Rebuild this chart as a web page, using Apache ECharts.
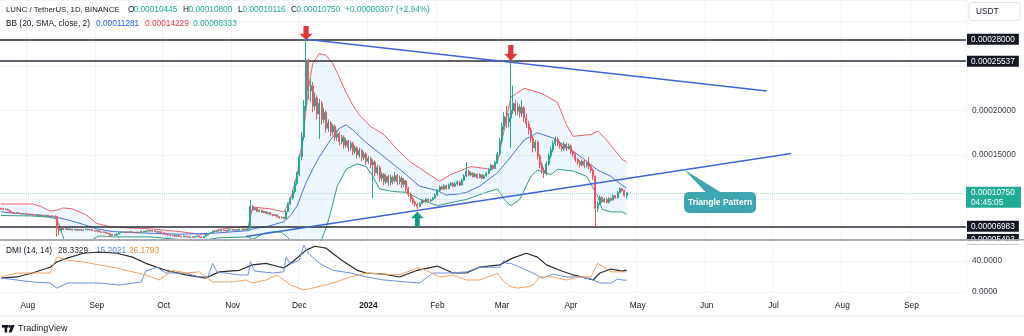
<!DOCTYPE html>
<html><head><meta charset="utf-8">
<script src="https://cdn.jsdelivr.net/npm/echarts/dist/echarts.min.js"></script>
<style>html,body{margin:0;padding:0;background:#fff}#c{width:1024px;height:336px}</style>
</head><body><div id="c"></div>
<script>
// ---------- DATA (prices in micro-USDT, i.e. 1e-6 USDT) ----------
const startDate = Date.UTC(2023, 6, 20);   // first daily bar
const dayCount = 434;                       // visible days on the time scale
const timeTicks = [['2023-08-01','Aug'],['2023-09-01','Sep'],['2023-10-01','Oct'],['2023-11-01','Nov'],['2023-12-01','Dec'],['2024-01-01','2024'],['2024-02-01','Feb'],['2024-03-01','Mar'],['2024-04-01','Apr'],['2024-05-01','May'],['2024-06-01','Jun'],['2024-07-01','Jul'],['2024-08-01','Aug'],['2024-09-01','Sep']];
const priceTickLabels = [150, 200];
const dmiTickLabels = [0, 40];
// [open, close, low, high]
const candles = [
[90.2,89.5,88.9,90.8],[89.5,88.8,88.2,90.1],[88.8,89.2,88.3,89.9],[89.2,87.5,87.0,89.6],[87.5,86.0,85.5,87.9],[86.0,85.2,84.7,86.5],[85.2,84.6,84.0,85.8],[84.6,85.0,84.1,85.6],[85.0,84.2,83.7,85.4],[84.2,83.8,83.2,84.8],
[83.8,84.3,83.4,84.9],[84.3,83.6,83.1,84.7],[83.6,83.1,82.5,84.0],[83.1,83.5,82.7,84.1],[83.5,82.8,82.3,83.9],[82.8,82.4,81.8,83.3],[82.4,82.9,82.0,83.5],[82.9,82.2,81.7,83.2],[82.2,82.6,81.8,83.1],[82.6,81.9,81.3,82.9],
[81.9,82.3,81.5,82.8],[82.3,81.6,81.0,82.6],[81.6,81.2,80.6,82.0],[81.2,81.7,80.9,82.2],[81.7,80.8,80.2,82.0],[80.8,67.5,58.5,81.5],[67.5,65.0,60.2,68.4],[65.0,67.8,64.3,68.9],[67.8,66.4,65.8,68.5],[66.4,67.2,65.9,67.9],
[67.2,66.0,65.5,67.6],[66.0,66.8,65.6,67.3],[66.8,65.7,65.2,67.1],[65.7,66.5,65.3,67.0],[66.5,65.4,64.9,66.9],[65.4,66.1,65.0,66.6],[66.1,65.2,64.7,66.5],[65.2,65.9,64.9,66.4],[65.9,66.6,65.5,67.2],[66.6,65.8,65.3,67.0],
[65.8,66.3,65.4,66.8],[66.3,65.1,64.6,66.6],[65.1,64.5,63.9,65.5],[64.5,65.2,64.1,65.7],[65.2,63.8,63.2,65.5],[63.8,62.9,62.3,64.2],[62.9,63.5,62.5,64.0],[63.5,62.4,61.8,63.9],[62.4,61.5,60.8,62.8],[61.5,59.6,57.8,61.9],
[59.6,60.8,59.1,61.3],[60.8,59.9,59.2,61.2],[59.9,61.2,59.5,61.7],[61.2,62.5,60.9,63.0],[62.5,63.4,62.1,63.9],[63.4,62.8,62.2,63.8],[62.8,63.6,62.4,64.1],[63.6,62.9,62.4,64.0],[62.9,63.9,62.6,64.4],[63.9,63.1,62.6,64.3],
[63.1,62.6,62.1,63.5],[62.6,63.3,62.3,63.8],[63.3,62.7,62.2,63.7],[62.7,64.2,62.5,64.7],[64.2,63.5,63.0,64.6],[63.5,64.6,63.2,65.2],[64.6,65.3,64.2,66.0],[65.3,64.4,63.9,65.7],[64.4,65.0,64.0,65.6],[65.0,64.1,63.6,65.4],
[64.1,63.2,62.7,64.5],[63.2,63.8,62.9,64.3],[63.8,62.6,62.1,64.1],[62.6,61.8,61.2,63.0],[61.8,61.0,60.4,62.2],[61.0,60.2,59.6,61.4],[60.2,59.3,58.7,60.6],[59.3,59.9,58.9,60.4],[59.9,58.7,58.1,60.2],[58.7,59.4,58.3,59.9],
[59.4,58.5,58.0,59.8],[58.5,57.9,57.3,58.9],[57.9,58.8,57.6,59.3],[58.8,58.1,57.6,59.1],[58.1,57.4,56.8,58.5],[57.4,58.2,57.1,58.7],[58.2,57.6,57.1,58.6],[57.6,58.4,57.3,58.9],[58.4,59.1,58.1,59.6],[59.1,58.0,57.5,59.4],
[58.0,57.3,56.7,58.4],[57.3,58.6,57.0,59.0],[58.6,60.2,58.3,60.7],[60.2,61.8,59.9,62.3],[61.8,62.5,61.3,63.1],[62.5,64.7,62.2,65.3],[64.7,64.0,63.5,65.2],[64.0,65.2,63.7,65.8],[65.2,64.6,64.1,65.6],[64.6,65.8,64.3,66.3],
[65.8,65.1,64.6,66.2],[65.1,64.5,64.0,65.5],[64.5,65.6,64.2,66.1],[65.6,66.3,65.2,66.9],[66.3,65.5,65.0,66.7],[65.5,66.2,65.1,66.8],[66.2,65.4,64.9,66.6],[65.4,66.6,65.1,67.2],[66.6,65.9,65.4,67.0],[65.9,66.8,65.5,67.4],
[66.8,66.2,65.7,67.3],[66.2,67.4,65.9,68.0],[67.4,92.0,66.8,99.5],[92.0,88.5,86.9,94.0],[88.5,90.2,87.6,91.5],[90.2,86.8,85.9,90.8],[86.8,87.9,85.8,88.9],[87.9,85.6,84.9,88.3],[85.6,86.4,84.8,87.2],[86.4,84.3,83.6,86.9],
[84.3,85.2,83.5,85.9],[85.2,83.1,82.4,85.6],[83.1,82.0,81.3,83.7],[82.0,82.8,81.4,83.4],[82.8,80.6,79.9,83.1],[80.6,79.4,78.6,81.1],[79.4,80.1,78.8,80.8],[80.1,78.4,77.5,80.5],[78.4,86.5,78.0,87.8],[86.5,95.0,85.6,96.5],
[95.0,101.5,93.8,103.2],[101.5,109.0,99.6,111.0],[109.0,118.0,106.5,121.0],[118.0,128.5,115.8,131.0],[128.5,148.0,126.0,151.0],[148.0,170.0,144.0,176.0],[170.0,205.0,166.0,212.0],[205.0,255.0,199.0,280.0],[255.0,222.0,212.0,258.0],[222.0,228.0,210.0,236.0],
[228,205,198,232],[205,214,200,220],[214,196,190,217],[196,208,168,213],[208,190,184,211],[190,198,186,203],[198,180,175,200],[180,186,176,190],[186,176,171,188],[176,182,172,185],
[182,170,166,184],[170,174,166,178],[174,165,161,176],[165,170,162,173],[170,161,157,172],[161,166,158,169],[166,158,154,167],[158,163,155,166],[163,154,150,165],[154,158,151,161],
[158,150,146,160],[150,155,147,158],[155,147,143,157],[147,151,144,154],[151,143,139,153],[143,146,140,149],[146,139,135,148],[139,142,101,145],[142,130,126,144],[130,136,127,139],
[136,124,120,138],[124,128,121,131],[128,120,116,130],[120,126,117,129],[126,119,115,128],[119,125,116,128],[125,121,117,127],[121,127,119,131],[127,120,116,129],[120,124,117,127],
[124,117,113,126],[117,121,114,124],[121,112,108,122],[112,106,103,114],[106,101,97,108],[101,97,94.5,103],[97,94.5,92,98.5],[94.5,92.5,89.5,96],[92.5,95.5,91.5,97],[95.5,98.8,94.6,100.2],
[98.8,97.2,96.3,100.0],[97.2,100.4,96.5,101.8],[100.4,98.1,97.2,101.2],[98.1,99.6,97.4,100.8],[99.6,101.8,98.9,103.0],[101.8,105.0,101.0,106.6],[105.0,110.5,104.2,112.0],[110.5,114.2,109.3,115.8],[114.2,111.6,110.4,115.5],[111.6,115.5,110.8,117.0],
[115.5,112.3,111.2,116.6],[112.3,116.4,111.5,118.0],[116.4,118.2,115.2,119.9],[118.2,114.9,113.8,119.3],[114.9,117.6,114.0,119.1],[117.6,119.8,116.5,121.5],[119.8,116.3,115.1,120.8],[116.3,121.5,115.5,123.2],[121.5,126.4,120.6,128.3],[126.4,131.8,125.2,142.0],
[131.8,127.5,126.1,133.0],[127.5,129.6,126.3,131.4],[129.6,125.8,124.5,130.6],[125.8,128.3,124.9,129.9],[128.3,124.6,123.4,129.2],[124.6,127.9,123.8,129.5],[127.9,123.8,122.6,128.8],[123.8,126.5,122.9,128.0],[126.5,129.2,125.6,130.8],[129.2,133.5,128.3,135.2],
[133.5,138.2,132.4,140.0],[138.2,134.9,133.5,139.3],[134.9,141.5,134.0,143.5],[141.5,151.0,140.2,153.5],[151,166,149,169],[166,182,163,186],[182,193,178,198],[193,187,180,205],[187,192,181,197],[192,200,158,255],
[200,208,196,228],[208,199,194,212],[199,204,195,209],[204,197,192,207],[197,203,193,212],[203,192,187,205],[192,185,180,196],[185,178,173,188],[178,169,164,181],[169,158,153,171],
[158,164,154,167],[164,149,145,166],[149,139,135,151],[139,133,129,142],[133,129,124,136],[129,140,127,143],[140,149,138,152],[149,156,146,159],[156,163,153,166],[163,168,160,171],
[168,163,160,170],[163,160,157,166],[160,157,154,162],[157,162,155,165],[162,158,155,164],[158,160,156,163],[160,154,151,162],[154,151,148,156],[151,145,142,153],[145,142,139,147],
[142,139,136,144],[139,143,137,145],[143,138,135,145],[138,141,136,143],[141,137,134,148],[137,133,130,139],[133,126,122,135],[126,90,70,127],[90,95.5,86,98],[95.5,102.3,93.8,104.5],
[102.3,97.6,95.9,103.6],[97.6,100.2,96.1,101.9],[100.2,96.8,95.2,101.3],[96.8,101.1,95.6,102.6],[101.1,99.4,98.0,102.4],[99.4,104.2,98.6,105.8],[104.2,101.9,100.6,105.2],[101.9,107.8,101.0,109.4],[107.8,112.1,106.9,113.6],[112.1,110.3,108.8,113.2],
[110.3,104.43,103.2,111.2],[104.45,107.5,101.16,108.0]
];
const lastClose = 107.5;
// Bollinger Bands (20, SMA, close, 2): [barIndex, value]
const bbUpper = [[0,95],[14,95],[18,92],[22,87],[25,88],[28,90.5],[32,89.5],[38,83],[43,73],[49,69.5],[58,68],[67,67],[80,64],[89,61],[93,61],[98,66.5],[105,68.5],[111,69.5],[113,91.5],[121,89.5],[127,86],[130,100],[133,128],[136,178],[138,223],[140,253],[143,264],[146,262],[149,253],[152,237],[155,220],[158,206],[161,195],[166,182],[172,173],[178,156],[184,142],[190,132],[197,120.5],[202,128],[211,137],[220,134],[223,142],[226,178],[229,215],[235,225],[243,219],[250,209],[254,184],[257,171],[265,173],[268,177],[272,167],[279,145],[281,142.3]];
const bbBasis = [[0,86],[14,83],[25,80],[30,77],[37,72],[43,67],[50,64],[67,62],[80,61],[95,62],[111,65],[113,67],[120,70],[127,75],[130,82],[133,93],[137,119],[140,134],[143,148],[148,167],[152,180],[155,184],[158,178],[164,164],[172,148],[179,134],[188,115],[196,110],[200,105],[205,106],[209,108],[215,115],[223,130],[229,148],[235,167],[241,175],[248,169],[256,156],[262,145],[268,133],[274,126],[279,116],[281,112.8]];
const bbLower = [[0,82],[14,81.5],[22,80],[25,78],[27,64],[29,50],[33,44],[38,48],[41,55],[44,59],[50,58],[67,58],[80,55],[90,54],[98,57],[111,58],[113,55],[118,62],[123,64],[126,63],[129,57],[131,48],[134,25],[137,-5],[140,-20],[142,10],[144,55],[146,68],[148,85],[151,115],[155,134],[160,140],[164,137],[167,126],[170,112],[176,109],[182,108],[188,100.5],[196,93],[203,97],[209,100],[218,108],[223,112],[226,100],[229,93],[233,100],[238,126],[241,133],[247,128],[250,134],[257,132],[263,126],[268,104],[270,89],[274,86],[279,86],[281,83.3]];
// DMI (14, 14)
const dmiAdx = [[0,18],[7,19.4],[14,24.5],[22,32],[25,38.7],[30,44],[37,50],[44,51.6],[52,50],[59,45],[65,37],[74,28],[83,22],[92,18],[98,26],[107,28],[113,35],[119,37],[127,31],[131,39],[137,54],[141,59],[146,56.5],[153,41],[160,28],[164,24.5],[172,23],[179,19.4],[187,28],[196,33.5],[203,24.5],[209,24.5],[215,32],[224,35],[230,44],[236,50],[241,45],[245,35],[251,28],[257,22],[263,18],[266,15.5],[269,24.5],[274,29.7],[279,27],[281,28.3]];
const dmiPlus = [[0,18],[14,13],[22,11.6],[25,5],[30,11.6],[44,11.6],[53,9],[63,13],[65,27],[70,32],[74,24.5],[83,24.5],[89,19.4],[93,20],[95,37],[97,26],[107,22],[111,22],[112,39],[114,27],[122,24.5],[127,26],[128,45],[130,36],[134,41],[136,60.6],[138,50],[143,37],[149,28],[157,24.5],[164,19.4],[172,15.5],[182,13],[188,11.6],[194,24.5],[202,24.5],[209,26],[215,32],[224,32],[226,41],[227,37],[229,37],[233,32],[239,24.5],[243,18],[248,23],[254,19.4],[260,19.4],[265,16.8],[269,11.6],[274,11.6],[277,16.8],[279,15.5],[281,15.2]];
const dmiMinus = [[0,19.4],[7,24.5],[22,24.5],[25,45],[30,41],[37,38.7],[44,35],[52,31],[59,26],[65,22],[71,15.5],[77,28],[83,24.5],[89,26],[95,13],[104,13],[110,15.5],[113,11.6],[119,15.5],[124,22],[130,9],[136,2.6],[142,6.5],[149,11.6],[157,19.4],[164,24.5],[172,23],[179,22],[187,31],[191,28],[197,19.4],[203,22],[209,15.5],[215,15.5],[223,24],[226,13],[229,7],[232,5],[236,6.5],[239,9],[242,19.4],[248,19.4],[254,15.5],[259,19.4],[265,19.4],[268,37],[270,33.5],[274,26],[277,26],[279,26],[281,26.18]];
// drawings
const levelLines = [280, 255.37, 69.83, 54.93];
const trendUpper = [[137,280],[344,222]];
const trendLower = [[110,58.5],[355,151.7]];
const arrowMarks = [{i:137,v:287,dir:'down',size:[13,14]},{i:229,v:264.6,dir:'down',size:[13,16]},{i:187,v:78,dir:'up',size:[12,15]}];
const calloutTip = [307,133.4];
const calloutBox = [323,96.6];

// ---------- CHART ----------
const FONT = "'Liberation Sans', Arial, sans-serif";
const FS = 8.3;
const categories = [];
for (let d = 0; d < dayCount; d++) categories.push(new Date(startDate + d*86400000).toISOString().slice(0,10));
const tickMap = Object.fromEntries(timeTicks);
const fmtPrice = v => (v/1e6).toFixed(8);

function xAxisFor(gi, showLabels){
  return {type:'category', gridIndex:gi, data:categories, boundaryGap:true,
    axisLine:{show:false}, axisTick:{show:false},
    axisLabel:{show:showLabels, interval:(idx,val)=>val in tickMap, hideOverlap:false,
      formatter:v => tickMap[v]==='2024' ? '{b|2024}' : (tickMap[v]||''),
      color:'#131722', fontSize:FS, fontFamily:FONT, margin:10,
      rich:{b:{fontWeight:'bold', fontSize:FS, fontFamily:FONT, color:'#131722'}}},
    splitLine:{show:true, interval:(idx,val)=>val in tickMap, lineStyle:{color:'#f0f3fa', width:1}}};
}
function lineSeries(data, color, width, gi, z){
  return {type:'line', xAxisIndex:gi, yAxisIndex:gi, data, symbol:'none', showSymbol:false,
    lineStyle:{color, width}, itemStyle:{color}, silent:true, z:z||3, clip:true};
}
const DOWN = 'path://M3,0 L7,0 L7,5.5 L10,5.5 L5,10 L0,5.5 L3,5.5 Z';
const UP = 'path://M5,0 L10,4.5 L7,4.5 L7,10 L3,10 L3,4.5 L0,4.5 Z';

const option = {
  animation:false,
  backgroundColor:'#ffffff',
  textStyle:{fontFamily:FONT},
  grid:[{left:0,right:58,top:0,height:244,outerBoundsMode:'none'},{left:0,right:58,top:240,height:52,outerBoundsMode:'none'}],
  xAxis:[xAxisFor(0,false), xAxisFor(1,true)],
  yAxis:[
    {type:'value', gridIndex:0, position:'right', min:50, max:324.16, interval:50,
      axisLine:{show:false}, axisTick:{show:false}, splitLine:{lineStyle:{color:'#f0f3fa'}},
      axisLabel:{formatter:v => priceTickLabels.includes(v) ? fmtPrice(v) : '', color:'#3a3e4a', fontSize:FS, fontFamily:FONT, margin:6}},
    {type:'value', gridIndex:1, position:'right', min:0, max:67.1, interval:40,
      axisLine:{show:false}, axisTick:{show:false}, splitLine:{lineStyle:{color:'#f0f3fa'}},
      axisLabel:{formatter:v => dmiTickLabels.includes(v) ? v.toFixed(4) : '', color:'#3a3e4a', fontSize:FS, fontFamily:FONT, margin:6}}
  ],
  series:[
    {type:'custom', xAxisIndex:0, yAxisIndex:0, data:[0], silent:true, z:1, clip:true,
      renderItem:function(params, api){
        const pts = [];
        bbUpper.forEach(p => pts.push(api.coord(p)));
        for (let k = bbLower.length-1; k >= 0; k--) pts.push(api.coord(bbLower[k]));
        const cs = params.coordSys;
        return {type:'polygon', shape:{points:echarts.graphic.clipPointsByRect(pts,{x:cs.x,y:cs.y,width:cs.width,height:cs.height})},
          style:{fill:'rgba(33,150,243,0.08)'}};
      }},
    lineSeries(bbUpper,'#f0616b',1,0,2),
    lineSeries(bbBasis,'#4a72dd',1,0,2),
    lineSeries(bbLower,'#2f9e80',1,0,2),
    {type:'candlestick', xAxisIndex:0, yAxisIndex:0, data:candles, barWidth:1.5, z:5, silent:true,
      itemStyle:{color:'#22ab94', color0:'#f7525f', borderColor:'#22ab94', borderColor0:'#f7525f', borderWidth:1},
      markLine:{silent:true, symbol:'none', animation:false,
        data:[
          ...levelLines.map(v => ({yAxis:v, lineStyle:{color:'#2a2e39', width:1.7, type:'solid'},
            label:{show:true, position:'end', distance:1, formatter:p => fmtPrice(p.value), color:'#ffffff', backgroundColor:'#131722',
              padding:[1,4,0,4], fontSize:FS, fontFamily:FONT, lineHeight:10}})),
          {yAxis:lastClose, lineStyle:{color:'#a8d8d0', width:1, type:'dotted'}, label:{show:false}}
        ]},
      markPoint:{silent:true, animation:false, label:{show:false},
        data:arrowMarks.map(a => ({coord:[a.i,a.v], symbol:a.dir==='down'?DOWN:UP, symbolSize:a.size, symbolKeepAspect:false,
          itemStyle:{color:a.dir==='down'?'#e0333c':'#0b9b83'}}))}
    },
    lineSeries(trendUpper,'#3f66d9',1.5,0,6),
    lineSeries(trendLower,'#3f66d9',1.5,0,6),
    lineSeries(dmiAdx,'#2b2b2b',1.2,1,100),
    lineSeries(dmiPlus,'#6b8fe6',1,1,100),
    lineSeries(dmiMinus,'#f2a262',1,1,100)
  ]
};
const chart = echarts.init(document.getElementById('c'), null, {renderer:'canvas', width:1024, height:336});
chart.setOption(option);

const P = (i, v) => chart.convertToPixel({gridIndex:0}, [i, v]);
function T(x, y, text, fill, size, weight, align){
  return {type:'text', z:100, style:{x, y, text, fill, fontSize:size||FS, fontFamily:FONT, fontWeight:weight||'normal', align:align||'left', verticalAlign:'middle'}};
}
const py = P(0, lastClose)[1];
const tip = P(calloutTip[0], calloutTip[1]);
const bc = P(calloutBox[0], calloutBox[1]);
const g = [
  {type:'rect', z:50, shape:{x:0,y:240.5,width:1024,height:4.3}, style:{fill:'#ffffff'}},
  {type:'rect', z:51, shape:{x:0,y:239,width:1024,height:1.6}, style:{fill:'#a9acb4'}},
  {type:'rect', z:51, shape:{x:0,y:315.5,width:1024,height:1}, style:{fill:'#e0e3eb'}},
  // current price tag
  {type:'rect', z:60, shape:{x:966,y:py-6,width:55,height:21}, style:{fill:'#22ab94'}},
  T(971, py, fmtPrice(lastClose), '#ffffff'),
  T(971, py+10, '04:45:05', '#ffffff'),
  // currency box
  {type:'rect', z:60, shape:{x:969,y:2.5,width:51,height:18,r:2}, style:{fill:'#ffffff', stroke:'#e0e3eb', lineWidth:1}},
  T(976, 11.5, 'USDT', '#131722'),
  // legend lines
  T(6, 10, 'LUNC / TetherUS, 1D, BINANCE', '#131722', 7.8),
  T(128, 10, 'O', '#131722'), T(133.5, 10, '0.00010445', '#22ab94'),
  T(183, 10, 'H', '#131722'), T(188.5, 10, '0.00010800', '#22ab94'),
  T(238, 10, 'L', '#131722'), T(242.5, 10, '0.00010116', '#22ab94'),
  T(291, 10, 'C', '#131722'), T(296.5, 10, '0.00010750', '#22ab94'),
  T(345, 10, '+0.00000307 (+2.94%)', '#22ab94'),
  T(6, 24, 'BB (20, SMA, close, 2)', '#131722'),
  T(96, 24, '0.00011281', '#2962ff'),
  T(145, 24, '0.00014229', '#f23645'),
  T(193, 24, '0.00008333', '#22ab94'),
  T(6, 251, 'DMI (14, 14)', '#131722'),
  T(58, 251, '28.3329', '#2b2b2b'),
  T(96, 251, '15.2021', '#5b82e3'),
  T(129, 251, '26.1793', '#f08c3c'),
  // callout
  {type:'polygon', z:20, shape:{points:[[tip[0],tip[1]],[bc[0]-14,bc[1]-10],[bc[0]+1,bc[1]-10]]}, style:{fill:'#3ea6b1'}},
  {type:'rect', z:20, shape:{x:bc[0]-36,y:bc[1]-10.5,width:72,height:21,r:5}, style:{fill:'#3ea6b1'}},
  {type:'text', z:21, style:{x:bc[0], y:bc[1], text:'Triangle Pattern', fill:'#ffffff', fontSize:8.5, fontWeight:'bold', fontFamily:FONT, align:'center', verticalAlign:'middle'}},
  // TradingView mark
  {type:'rect', z:60, shape:{x:2,y:325,width:6,height:2.6}, style:{fill:'#131722'}},
  {type:'rect', z:60, shape:{x:4.6,y:325,width:2.6,height:7.5}, style:{fill:'#131722'}},
  {type:'circle', z:60, shape:{cx:9.6,cy:326.4,r:1.4}, style:{fill:'#131722'}},
  {type:'polygon', z:60, shape:{points:[[11.4,325],[14.6,325],[11.6,332.5],[8.6,332.5]]}, style:{fill:'#131722'}},
  T(18, 329, 'TradingView', '#131722', 9)
];
chart.setOption({graphic:{elements:g}});
</script></body></html>
